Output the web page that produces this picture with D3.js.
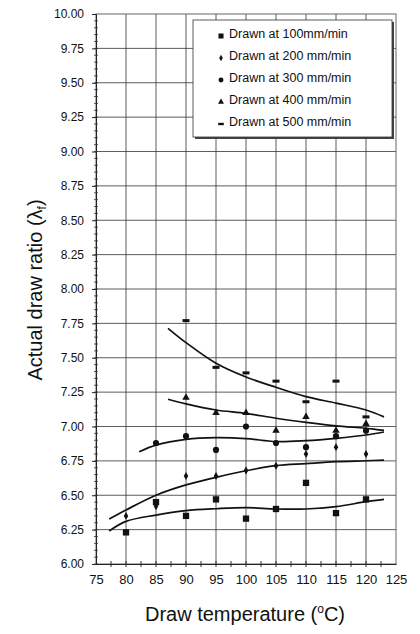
<!DOCTYPE html>
<html>
<head>
<meta charset="utf-8">
<script src="https://cdn.jsdelivr.net/npm/d3@7"></script>
<style>
  body { margin: 0; background: #fff; }
  text { font-family: "Liberation Sans", Arial, sans-serif; fill: #111; }
</style>
</head>
<body>
<svg id="chart" width="420" height="634"></svg>
<script>
// draw temperatures (C)
var temps = [80, 85, 90, 95, 100, 105, 110, 115, 120]

// measured draw ratios per draw speed
var s100 = [6.23, 6.45, 6.35, 6.47, 6.33, 6.40, 6.59, 6.37, 6.47]
var s200 = [6.35, 6.42, 6.64, 6.64, 6.68, 6.715, 6.80, 6.85, 6.80]
var s300 = [null, 6.88, 6.93, 6.83, 7.00, 6.88, 6.85, 6.93, 6.97]
var s400 = [null, null, 7.21, 7.10, 7.10, 6.97, 7.07, 6.97, 7.02]
var s500 = [null, null, 7.77, 7.43, 7.39, 7.33, 7.18, 7.33, 7.07]

// fitted trend lines
var fitT   = [77.2, 80, 85, 90, 95, 100, 105, 110, 115, 120, 123]
var fit100 = [6.24, 6.31, 6.356, 6.388, 6.402, 6.41, 6.40, 6.40, 6.417, 6.453, 6.47]
var fit200 = [6.327, 6.393, 6.50, 6.575, 6.63, 6.678, 6.715, 6.73, 6.744, 6.751, 6.756]
var fit300T = [82.2, 85, 90, 95, 100, 105, 110, 115, 120, 123]
var fit300 = [6.817, 6.865, 6.907, 6.919, 6.912, 6.89, 6.897, 6.914, 6.938, 6.96]
var fitHiT = [87, 90, 95, 100, 105, 110, 115, 120, 123]
var fit400 = [7.198, 7.164, 7.12, 7.096, 7.06, 7.03, 7.004, 6.987, 6.972]
var fit500 = [7.714, 7.61, 7.46, 7.36, 7.285, 7.217, 7.17, 7.12, 7.07]

var legendLabels = ['Drawn at 100mm/min', 'Drawn at 200 mm/min', 'Drawn at 300 mm/min',
                    'Drawn at 400 mm/min', 'Drawn at 500 mm/min']

var svg = d3.select('#chart')
var pLeft = 96, pRight = 396, pTop = 14, pBottom = 564

var x = d3.scaleLinear().domain([75, 125]).range([pLeft, pRight])
var y = d3.scaleLinear().domain([6, 10]).range([pBottom, pTop])

// grid
var grid = svg.append('g').attr('stroke', '#333').attr('stroke-width', 0.8)
grid.selectAll('.vg').data(d3.range(80, 125, 5)).enter().append('line')
  .attr('x1', d => x(d)).attr('x2', d => x(d))
  .attr('y1', pTop).attr('y2', pBottom)
grid.selectAll('.hg').data(d3.range(6.25, 10, 0.25)).enter().append('line')
  .attr('x1', pLeft).attr('x2', pRight)
  .attr('y1', d => y(d)).attr('y2', d => y(d))

// frame
svg.append('rect').attr('x', pLeft).attr('y', pTop)
  .attr('width', pRight - pLeft).attr('height', pBottom - pTop)
  .attr('fill', 'none').attr('stroke', '#666').attr('stroke-width', 1)

// y axis
var yAxis = d3.axisLeft(y).tickValues(d3.range(6, 10.001, 0.25))
  .tickFormat(d3.format('.2f')).tickSize(4).tickPadding(8)
var gy = svg.append('g').attr('transform', 'translate(' + pLeft + ',0)').call(yAxis)
gy.select('.domain').attr('stroke', '#222')
gy.selectAll('.tick line').attr('stroke', '#222')
gy.selectAll('text').style('font-size', '12px')
// minor y ticks
svg.append('g').selectAll('line').data(d3.range(6, 10, 0.05)).enter().append('line')
  .attr('x1', pLeft - 2).attr('x2', pLeft + 2)
  .attr('y1', d => y(d)).attr('y2', d => y(d))
  .attr('stroke', '#333').attr('stroke-width', 0.8)

// x axis
var xAxis = d3.axisBottom(x).tickValues(d3.range(75, 126, 5)).tickSize(0).tickPadding(11)
var gx = svg.append('g').attr('transform', 'translate(0,' + pBottom + ')').call(xAxis)
gx.select('.domain').attr('stroke', '#222')
gx.selectAll('text').style('font-size', '13px')
svg.append('g').selectAll('line').data(d3.range(77.5, 125, 2.5)).enter().append('line')
  .attr('x1', d => x(d)).attr('x2', d => x(d))
  .attr('y1', pBottom - 3).attr('y2', pBottom + 3)
  .attr('stroke', '#222').attr('stroke-width', 0.9)

// titles
svg.append('text').attr('x', 245).attr('y', 621).attr('text-anchor', 'middle')
  .style('font-size', '20px')
  .html('Draw temperature (<tspan dy="-8" font-size="12px">o</tspan><tspan dy="8">C)</tspan>')
svg.append('text').attr('transform', 'translate(42,290) rotate(-90)').attr('text-anchor', 'middle')
  .style('font-size', '20px')
  .html('Actual draw ratio (&#955;<tspan dy="4" font-size="12px">f</tspan><tspan dy="-4">)</tspan>')

// fit lines
var line = d3.line().curve(d3.curveCatmullRom).x(d => x(d[0])).y(d => y(d[1]))
var fits = [[fitT, fit100], [fitT, fit200], [fit300T, fit300], [fitHiT, fit400], [fitHiT, fit500]]
svg.append('g').selectAll('path').data(fits).enter().append('path')
  .attr('d', d => line(d3.zip(d[0], d[1])))
  .attr('fill', 'none').attr('stroke', '#111').attr('stroke-width', 1.7)

// markers
var symbols = [
  d3.symbol().type(d3.symbolSquare).size(40),
  d3.symbol().type(d3.symbolDiamond).size(18),
  d3.symbol().type(d3.symbolCircle).size(30),
  d3.symbol().type(d3.symbolTriangle).size(24),
  null
]
function drawMarker(g, i) {
  if (i == 4) {
    g.append('rect').attr('x', -3.5).attr('y', -1.5).attr('width', 7).attr('height', 3).attr('fill', '#111')
  } else {
    g.append('path').attr('d', symbols[i]()).attr('fill', '#111')
  }
}
var series = [s100, s200, s300, s400, s500]
series.forEach(function(vals, i) {
  var pts = temps.map((t, j) => [t, vals[j]]).filter(p => p[1] != null)
  pts.forEach(function(p) {
    var g = svg.append('g').attr('transform', 'translate(' + x(p[0]) + ',' + y(p[1]) + ')')
    drawMarker(g, i)
  })
})

// legend
var lg = svg.append('g')
lg.append('rect').attr('x', 195).attr('y', 22).attr('width', 199).attr('height', 117).attr('fill', '#444')
lg.append('rect').attr('x', 193).attr('y', 20).attr('width', 199).attr('height', 117)
  .attr('fill', '#fff').attr('stroke', '#333').attr('stroke-width', 0.8)
legendLabels.forEach(function(lbl, i) {
  var ly = 34 + i * 22
  var g = lg.append('g').attr('transform', 'translate(221,' + (ly + 2) + ') scale(0.8)')
  drawMarker(g, i)
  lg.append('text').attr('x', 229).attr('y', ly + 4).style('font-size', '12.5px').text(lbl)
})
</script>
</body>
</html>
